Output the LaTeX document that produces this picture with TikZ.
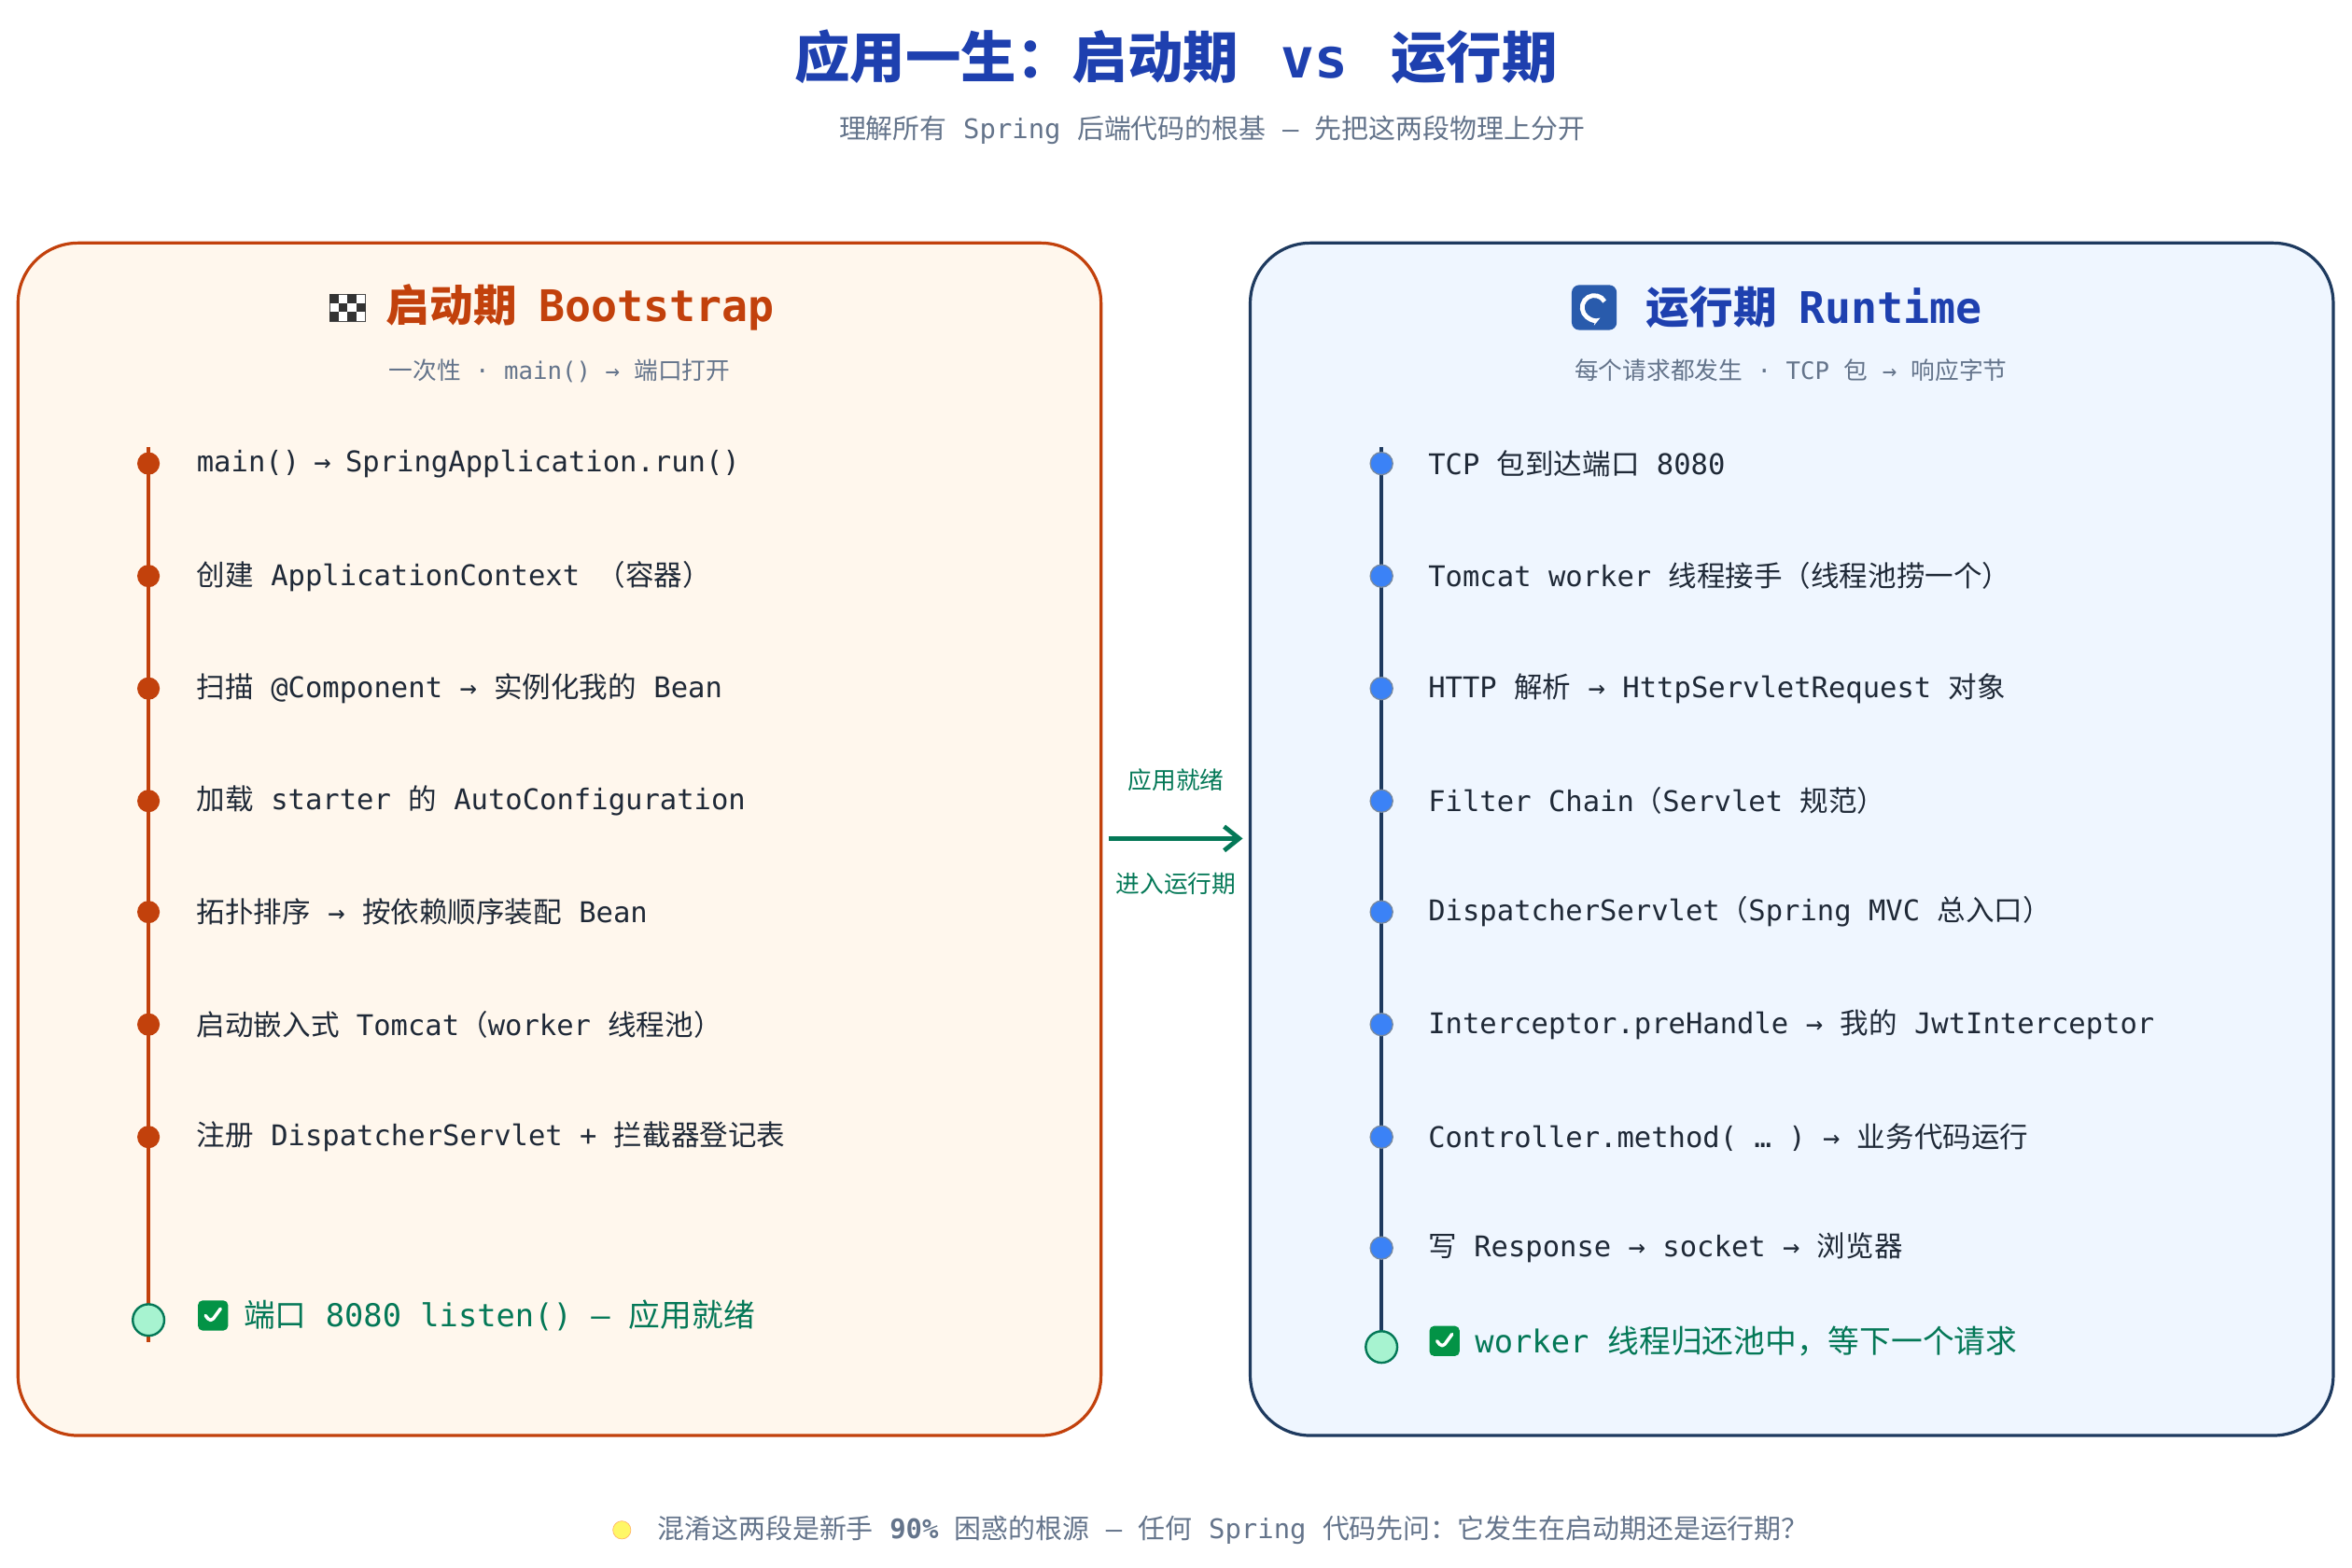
\documentclass[tikz,border=0pt]{standalone}
\usepackage{fontspec}
\setmainfont{DejaVu Sans Mono}
\newfontfamily\cjk{Noto Sans CJK SC}
\newcommand\zh[1]{{\cjk #1}}
\newcommand\zhb[1]{{\cjk\bfseries #1}}
\usetikzlibrary{arrows.meta}
\usetikzlibrary{positioning}
\definecolor{boot}{HTML}{C2410C}
\definecolor{bootbg}{HTML}{FFF7ED}
\definecolor{run}{HTML}{1E3A5F}
\definecolor{runbg}{HTML}{EFF6FF}
\definecolor{rundot}{HTML}{3B82F6}
\definecolor{ttl}{HTML}{1E40AF}
\definecolor{ok}{HTML}{047857}
\definecolor{okbg}{HTML}{A7F3D0}
\definecolor{muted}{HTML}{64748B}
\definecolor{ink}{HTML}{1F2937}

\begin{document}
\begin{tikzpicture}[x=1pt,y=-1pt,
    phase box/.style={rectangle,rounded corners=40pt,line width=2pt,minimum width=722pt,minimum height=795pt},
    stage/.style={anchor=west,font=\fontsize{19}{22}\selectfont,text=ink,inner sep=0pt},
    dot/.style={circle,inner sep=0pt,minimum size=15pt},
    end dot/.style={circle,draw=ok,fill=okbg,line width=1.5pt,inner sep=0pt,minimum size=21pt},
    check/.style={rectangle,rounded corners=3pt,fill=ok!80!green,minimum size=20pt,inner sep=0pt,
      path picture={\draw[white,line width=2.2pt,line cap=round,line join=round]
        ([shift={(-5pt,0pt)}]path picture bounding box.center) -- ++(3.5pt,-4.5pt) -- ++(6.5pt,9pt);}},
    sub/.style={font=\fontsize{16}{19}\selectfont,text=muted}]

    \useasboundingbox (0,0) rectangle (1568,1045.33);

    % title
    \node[text=ttl] (title) at (784,38) {\fontsize{37}{40}\selectfont\zhb{应用一生：启动期}\, \textbf{vs}\, \zhb{运行期}};
    \node[sub,font=\fontsize{18}{21}\selectfont] (subtitle) at (808,87) {\zh{理解所有} Spring \zh{后端代码的根基} – \zh{先把这两段物理上分开}};

    % the two boxes
    \node[phase box,draw=boot,fill=bootbg] (bootbox) at (373,559.5) {};
    \node[phase box,draw=run,fill=runbg] (runbox) at (1194.5,559.5) {};

    % bootstrap header
    \node[text=boot,anchor=west] (boothead) at (254,205) {\fontsize{29}{32}\selectfont\zhb{启动期}\enspace\textbf{Bootstrap}};
    \node[left=10pt of boothead,inner sep=0pt] (flag) {\tikz[x=1pt,y=1pt]{\fill[white,draw=black!70] (0,0) rectangle (24,18);
        \foreach \i in {0,...,3} \foreach \j in {0,1,2} {\pgfmathtruncatemacro\k{mod(\i+\j,2)}
          \ifnum\k=0 \fill[black!80] (\i*6,\j*6) rectangle ++(6,6);\fi}}};
    \node[sub] (bootsub) at (373,247) {\zh{一次性} · main() → \zh{端口打开}};

    % runtime header
    \node[text=ttl,anchor=west] (runhead) at (1094,205) {\fontsize{29}{32}\selectfont\zhb{运行期}\enspace\textbf{Runtime}};
    \node[left=16pt of runhead,inner sep=0pt] (cycle) {\tikz[x=1pt,y=1pt]{\fill[rundot!70!black,rounded corners=5pt] (0,0) rectangle (30,30);
        \draw[white,line width=3pt,-{Stealth[length=6pt]}] (15,15) ++(30:8) arc (30:300:8);}};
    \node[sub] (runsub) at (1194,247) {\zh{每个请求都发生} · TCP \zh{包} → \zh{响应字节}};

    % bootstrap timeline
    \draw[boot,line width=2.5pt] (99,298) coordinate (btop) -- (99,895) coordinate (bbot);
    \foreach \y/\t [count=\n] in {
        309/{main()\enspace →\enspace SpringApplication.run()},
        384/{\zh{创建} ApplicationContext \zh{（容器）}},
        459/{\zh{扫描} @Component → \zh{实例化我的} Bean},
        534/{\zh{加载} starter \zh{的} AutoConfiguration},
        608/{\zh{拓扑排序} → \zh{按依赖顺序装配} Bean},
        683/{\zh{启动嵌入式} Tomcat\zh{（}worker \zh{线程池）}},
        758/{\zh{注册} DispatcherServlet + \zh{拦截器登记表}}} {
      \node[dot,fill=boot] (b\n) at (99,\y) {};
      \node[stage] (bt\n) at (131,\y) {\t};
    }
    \node[end dot] (bend) at (99,880) {};
    \node[check] (bok) at (142,877) {};
    \node[stage,text=ok,font=\fontsize{21}{24}\selectfont,right=10pt of bok] (btend) {\zh{端口} 8080 listen() – \zh{应用就绪}};

    % runtime timeline
    \draw[run,line width=2.5pt] (921,298) coordinate (rtop) -- (921,905) coordinate (rbot);
    \foreach \y/\t [count=\n] in {
        309/{TCP \zh{包到达端口} 8080},
        384/{Tomcat worker \zh{线程接手（线程池捞一个）}},
        459/{HTTP \zh{解析} → HttpServletRequest \zh{对象}},
        534/{Filter Chain\zh{（}Servlet \zh{规范）}},
        608/{DispatcherServlet\zh{（}Spring MVC \zh{总入口）}},
        683/{Interceptor.preHandle → \zh{我的} JwtInterceptor},
        758/{Controller.method( … ) → \zh{业务代码运行}},
        832/{\zh{写} Response → socket → \zh{浏览器}}} {
      \node[dot,fill=rundot,draw=run!60,line width=0.8pt] (r\n) at (921,\y) {};
      \node[stage] (rt\n) at (952,\y) {\t};
    }
    \node[end dot] (rend) at (921,898) {};
    \node[check] (rok) at (963,894) {};
    \node[stage,text=ok,font=\fontsize{21}{24}\selectfont,right=10pt of rok] (rtend) {worker \zh{线程归还池中，等下一个请求}};

    % hand-over arrow
    \draw[ok,line width=3pt,-{Straight Barb[length=10pt,width=16pt]},shorten <=4pt,shorten >=4pt]
      (bootbox.east |- 0,559) coordinate (hand) -- (runbox.west |- hand);
    \node[text=ok,font=\fontsize{16}{19}\selectfont] (ready) at (784,520) {\zh{应用就绪}};
    \node[text=ok,font=\fontsize{16}{19}\selectfont] (enter) at (784,589) {\zh{进入运行期}};

    % footer
    \node[text=muted,font=\fontsize{18}{21}\selectfont] (footer) at (822,1020) {\zh{混淆这两段是新手} \textbf{90\%} \zh{困惑的根源} – \zh{任何} Spring \zh{代码先问：它发生在启动期还是运行期？}};
    \node[left=14pt of footer,circle,fill=yellow!60,draw=orange!60,minimum size=12pt,inner sep=0pt] (bulb) {};
\end{tikzpicture}
\end{document}
